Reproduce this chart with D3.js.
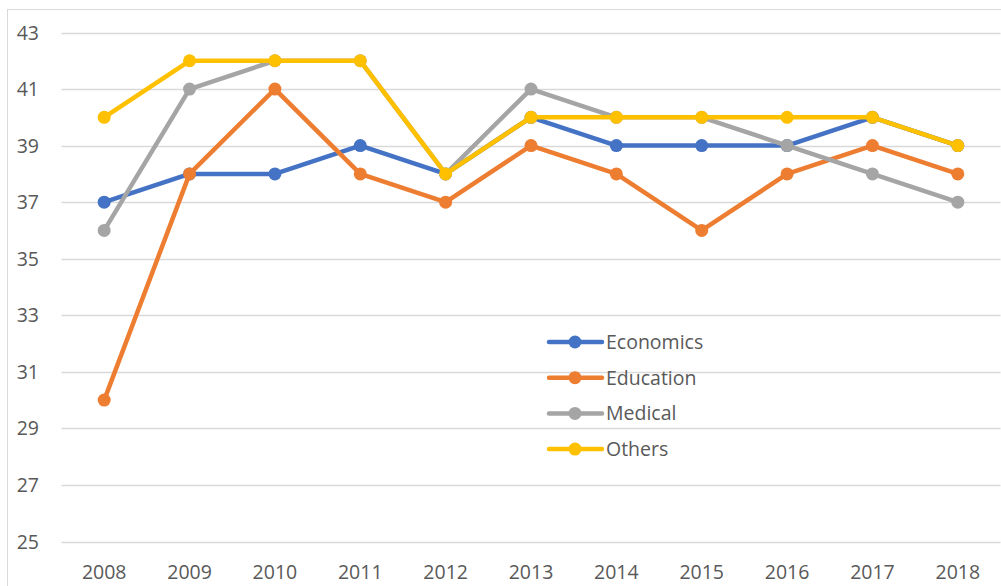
<!DOCTYPE html>
<html><head><meta charset="utf-8">
<script src="https://cdn.jsdelivr.net/npm/d3@7"></script>
<style>body{margin:0;background:#fff}svg{display:block;font-family:"Open Sans",Lato,sans-serif}</style>
</head><body>
<svg id="c" width="1001" height="586"></svg>
<script>
const years = ["2008","2009","2010","2011","2012","2013","2014","2015","2016","2017","2018"];
const economics = [37,38,38,39,38,40,39,39,39,40,39];
const education = [30,38,41,38,37,39,38,36,38,39,38];
const medical   = [36,41,42,42,38,41,40,40,39,38,37];
const others    = [40,42,42,42,38,40,40,40,40,40,39];
const yTicks = [25,27,29,31,33,35,37,39,41,43];
const seriesNames = ["Economics","Education","Medical","Others"];
const seriesColors = ["#4472C4","#ED7D31","#A5A5A5","#FFC000"];
const seriesData = [economics, education, medical, others];

const svg = d3.select("#c");
const L = 61.5, R = 1000.5, T = 32.5, B = 541.5;
const x = d3.scalePoint().domain(years).range([L, R]).padding(0.5);
const y = d3.scaleLinear().domain([25,43]).range([B, T]);
const FS = 19.5;

// frame
svg.append("rect").attr("x",7.5).attr("y",9.5).attr("width",1010).attr("height",600)
  .attr("fill","none").attr("stroke","#D9D9D9").attr("stroke-width",1);

// gridlines
svg.append("g").selectAll("line").data(yTicks).join("line")
  .attr("x1",L).attr("x2",R).attr("y1",d=>Math.round(y(d))+0.5).attr("y2",d=>Math.round(y(d))+0.5)
  .attr("stroke","#D9D9D9").attr("stroke-width",1.3);

// y labels
svg.append("g").selectAll("text").data(yTicks).join("text")
  .attr("x",39).attr("y",d=>y(d)).attr("dy","0.36em").attr("text-anchor","end")
  .attr("font-size",FS).attr("fill","#595959").text(d=>d);

// x labels
svg.append("g").selectAll("text").data(years).join("text")
  .attr("x",d=>x(d)).attr("y",579).attr("text-anchor","middle")
  .attr("font-size",FS).attr("fill","#595959").text(d=>d);

const line = d3.line().x((d,i)=>x(years[i])).y(d=>y(d));
seriesData.forEach((vals,k)=>{
  const g = svg.append("g");
  g.append("path").datum(vals).attr("d",line).attr("fill","none")
    .attr("stroke",seriesColors[k]).attr("stroke-width",4.5).attr("stroke-linejoin","round").attr("stroke-linecap","round");
  g.selectAll("circle").data(vals).join("circle")
    .attr("cx",(d,i)=>x(years[i])).attr("cy",d=>y(d)).attr("r",6.5).attr("fill",seriesColors[k]);
});

// legend
const lg = svg.append("g");
seriesNames.forEach((n,k)=>{
  const yy = 342 + k*35.7;
  lg.append("line").attr("x1",549).attr("x2",602).attr("y1",yy).attr("y2",yy)
    .attr("stroke",seriesColors[k]).attr("stroke-width",4.5).attr("stroke-linecap","round");
  lg.append("circle").attr("cx",575).attr("cy",yy).attr("r",6.5).attr("fill",seriesColors[k]);
  lg.append("text").attr("x",606).attr("y",yy).attr("dy","0.36em")
    .attr("font-size",FS).attr("fill","#595959").text(n);
});
</script>
</body></html>
